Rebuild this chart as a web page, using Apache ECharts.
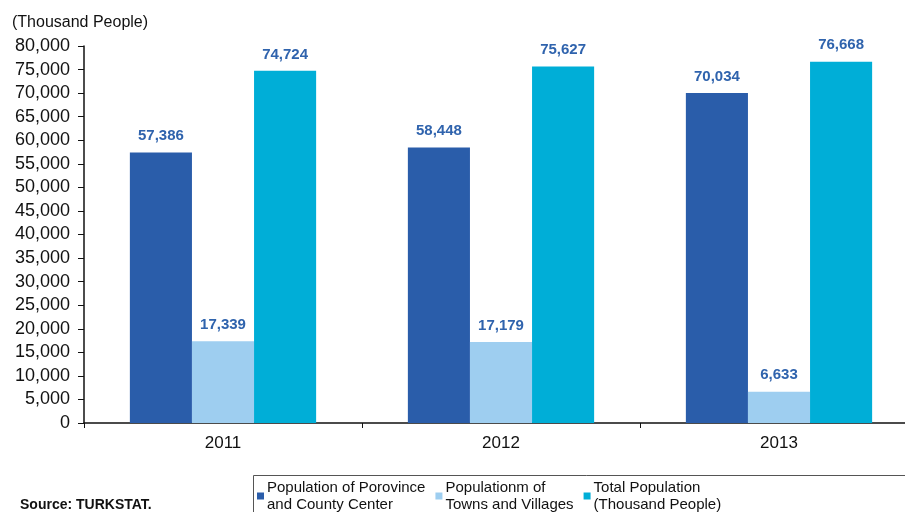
<!DOCTYPE html>
<html><head><meta charset="utf-8">
<script src="https://cdn.jsdelivr.net/npm/echarts@6/dist/echarts.min.js"></script>
<style>html,body{margin:0;padding:0;background:#fff;overflow:hidden;width:905px;height:512px}#c{width:918px;height:512px}</style>
</head><body><div id="c"></div>
<script>
var categories = ['2011', '2012', '2013'];
var seriesNames = ['Population of Porovince\nand County Center', 'Populationm of\nTowns and Villages', 'Total Population\n(Thousand People)'];
var provinceCenter = [57386, 58448, 70034];
var townsVillages = [17339, 17179, 6633];
var totalPopulation = [74724, 75627, 76668];
var yTicks = [0, 5000, 10000, 15000, 20000, 25000, 30000, 35000, 40000, 45000, 50000, 55000, 60000, 65000, 70000, 75000, 80000];
var colors = ['#2a5daa', '#9ecef0', '#00aed7'];
var font = 'Liberation Sans, Arial, Helvetica, sans-serif';
function fmt(v){ return v.toString().replace(/\B(?=(\d{3})+(?!\d))/g, ','); }
var chart = echarts.init(document.getElementById('c'));
var dataArr = [provinceCenter, townsVillages, totalPopulation];
chart.setOption({
  animation: false,
  textStyle: {fontFamily: font},
  grid: {left: 84, right: 0, top: 46, bottom: 89, containLabel: false},
  graphic: [
    {type: 'text', left: 12, top: 15, style: {text: '(Thousand People)', fontSize: 16, fontFamily: font, fill: '#111'}},
    {type: 'text', left: 20, top: 498, style: {text: 'Source: TURKSTAT.', fontSize: 14, fontWeight: 'bold', fontFamily: font, fill: '#111'}},
    {type: 'rect', shape: {x: 253.5, y: 475.5, width: 700, height: 60}, style: {fill: 'none', stroke: '#555', lineWidth: 1}, z: 0}
  ],
  legend: {
    left: 257, top: 479, width: 640,
    orient: 'horizontal',
    data: seriesNames,
    icon: 'rect', itemWidth: 7, itemHeight: 7, itemGap: 10,
    padding: 0,
    textStyle: {fontSize: 15, fontFamily: font, color: '#111', lineHeight: 17, padding: [0, 0, 0, -2]}
  },
  xAxis: {
    type: 'category', data: categories,
    axisLine: {lineStyle: {color: '#111', width: 1.5}},
    axisTick: {show: true, length: 5, lineStyle: {color: '#111'}, alignWithLabel: false},
    axisLabel: {fontSize: 17, color: '#111', margin: 12, fontFamily: font}
  },
  yAxis: {
    type: 'value', min: yTicks[0], max: yTicks[yTicks.length - 1], interval: yTicks[1] - yTicks[0],
    axisLine: {show: true, lineStyle: {color: '#111', width: 1.5}},
    axisTick: {show: true, length: 6, lineStyle: {color: '#111'}},
    splitLine: {show: false},
    axisLabel: {fontSize: 18, color: '#111', margin: 14, fontFamily: font, formatter: function(v){ return fmt(v); }}
  },
  series: seriesNames.map(function(n, i){
    return {
      name: n, type: 'bar', data: dataArr[i],
      barGap: '0%', barCategoryGap: '33%',
      itemStyle: {color: colors[i]},
      label: {show: true, position: 'top', distance: 9, color: '#2f63ad', fontWeight: 'bold', fontSize: 15, fontFamily: font, formatter: function(p){ return fmt(p.value); }}
    };
  })
});
</script></body></html>
